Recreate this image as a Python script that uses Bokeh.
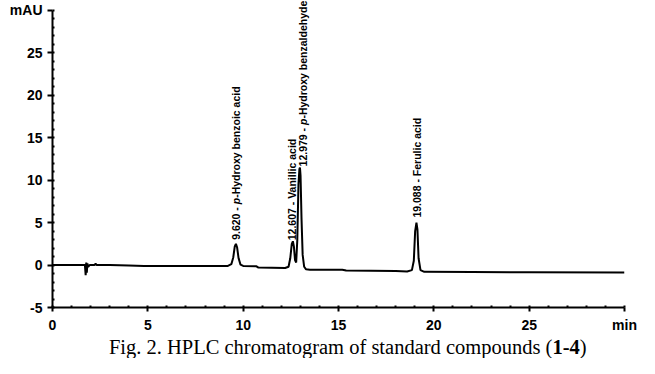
from math import pi
from bokeh.plotting import figure
from bokeh.layouts import column
from bokeh.models import Range1d, FixedTicker, Label
from bokeh.core.properties import value
from bokeh.embed import file_html
from bokeh.resources import INLINE

# ---- data ----
time_min = [0.0, 1.0, 1.70, 1.74, 1.77, 1.80, 1.83, 1.87, 1.95, 2.2, 2.26, 2.32, 3.0, 4.0, 4.8,
            6.0, 8.0, 9.2, 9.38, 9.48, 9.56, 9.62, 9.68, 9.76, 9.86, 10.0, 10.7, 10.8,
            12.2, 12.38, 12.47, 12.55, 12.607, 12.66, 12.72, 12.78, 12.84, 12.90, 12.95,
            12.979, 13.01, 13.06, 13.12, 13.2, 13.3, 13.5, 15.2, 15.4, 18.0, 18.6, 18.85,
            18.95, 19.02, 19.088, 19.14, 19.2, 19.3, 19.5, 22.0, 25.0, 30.0]
absorb_mau = [0.0, 0.0, 0.0, -1.2, 0.3, -0.9, 0.2, -0.2, 0.0, 0.0, 0.15, 0.0, 0.0, -0.05, -0.1,
              -0.1, -0.1, -0.1, 0.1, 0.9, 2.2, 2.5, 2.1, 0.8, 0.05, -0.1, -0.15, -0.3,
              -0.35, -0.2, 0.8, 2.5, 2.8, 2.2, 0.6, 0.3, 3.0, 9.5, 11.3,
              11.5, 10.5, 5.5, 1.2, -0.2, -0.5, -0.55, -0.55, -0.65, -0.7, -0.75, -0.6,
              0.5, 4.0, 5.0, 4.2, 0.8, -0.6, -0.8, -0.82, -0.85, -0.87]

peak_times = [9.620, 12.607, 12.979, 19.088]
peak_heights = [2.5, 2.8, 11.5, 5.0]
peak_italic = ["p", "", "p", ""]
peak_names = ["-Hydroxy benzoic acid", "Vanillic acid", "-Hydroxy benzaldehyde", "Ferulic acid"]

x_ticks = [0, 5, 10, 15, 20, 25, 30]
x_tick_labels = ["0", "5", "10", "15", "20", "25", "min"]
y_ticks = [-5, 0, 5, 10, 15, 20, 25, 30]
y_tick_labels = ["-5", "0", "5", "10", "15", "20", "25", "mAU"]

caption_main = "Fig. 2. HPLC chromatogram of standard compounds ("
caption_bold = "1-4"
caption_end = ")"

# ---- main chart ----
p = figure(width=639, height=335, output_backend="svg", toolbar_location=None, title=None,
           x_range=Range1d(0, 30), y_range=Range1d(-5, 31.17),
           min_border_left=52, min_border_right=15, min_border_top=0, min_border_bottom=25)
p.outline_line_color = None
p.grid.visible = False
p.background_fill_color = "white"
p.border_fill_color = "white"

p.line(time_min, absorb_mau, line_color="black", line_width=2)

for ax, ticks, labels, out, std in ((p.xaxis[0], x_ticks, x_tick_labels, 4, 5),
                                     (p.yaxis[0], y_ticks, y_tick_labels, 5, 5)):
    minor = [v for v in range(ticks[0], ticks[-1] + 1)]
    ax.ticker = FixedTicker(ticks=ticks, minor_ticks=minor)
    ax.bounds = (ticks[0], ticks[-1])
    ax.major_label_overrides = {t: l for t, l in zip(ticks, labels)}
    ax.axis_line_width = 2
    ax.axis_line_color = "black"
    ax.major_tick_line_width = 2
    ax.major_tick_out = out
    ax.major_tick_in = 0
    ax.minor_tick_line_width = 2
    ax.minor_tick_in = 2
    ax.minor_tick_out = 0
    ax.major_label_standoff = std
    ax.major_label_text_font = "Liberation Sans"
    ax.major_label_text_font_style = "bold"
    ax.major_label_text_font_size = "14px"
    ax.major_label_text_color = "black"

# ---- peak annotations (rotated, with italic p) ----
FS = 10.5
W = {c: 556 for c in "0123456789"}
W.update({".": 278, " ": 278, "-": 333, "p": 611})
def width(s):
    return sum(W[c] for c in s) / 1000.0 * FS

label_dx = [0, -1, 3, 1]
label_gap = [4, 1, 1, 5]
for t, h, it, nm, dx, gap in zip(peak_times, peak_heights, peak_italic, peak_names, label_dx, label_gap):
    prefix = f"{t:.3f} - "
    pieces = [(prefix, "bold")]
    if it:
        pieces.append((it, "bold italic"))
    pieces.append((nm, "bold"))
    off = gap
    for i, (txt, style) in enumerate(pieces):
        p.add_layout(Label(x=t, y=h, x_offset=dx, y_offset=off, text=txt, angle=pi / 2,
                           text_align="left", text_baseline="middle",
                           text_font="Liberation Sans", text_font_style=style,
                           text_font_size=f"{FS}px", text_color="black"))
        off += width(txt) if i < len(pieces) - 1 else 0

# ---- caption strip (its frame is aligned with the chart frame) ----
CFS = 20.5
CAP_H = 23
cap = figure(width=639, height=CAP_H, output_backend="svg", toolbar_location=None, title=None,
             x_range=Range1d(0, 30), y_range=Range1d(0, CAP_H),
             x_axis_type=None, y_axis_type=None,
             min_border_left=52, min_border_right=15, min_border_top=0, min_border_bottom=0)
cap.outline_line_color = None
cap.grid.visible = False
cap.border_fill_color = "white"
cap.background_fill_color = "white"

anchor_x = 26.22
mid_y = CAP_H / 2
px_per_min = (639 - 52 - 15) / 30.0
cap.text(x=[anchor_x], y=[mid_y], text=[caption_main], text_align="right",
         text_baseline="middle", text_font=value("Liberation Serif"),
         text_font_size=f"{CFS}px", text_color="black")
cap.text(x=[anchor_x], y=[mid_y], text=[caption_bold], text_align="left",
         text_baseline="middle", text_font=value("Liberation Serif"), text_font_style="bold",
         text_font_size=f"{CFS}px", text_color="black")
cap.text(x=[anchor_x], y=[mid_y], x_offset=1.333 * CFS, text=[caption_end], text_align="left",
         text_baseline="middle", text_font=value("Liberation Serif"),
         text_font_size=f"{CFS}px", text_color="black")

layout = column(p, cap, spacing=0)
open("out.html", "w").write(file_html(layout, INLINE))
